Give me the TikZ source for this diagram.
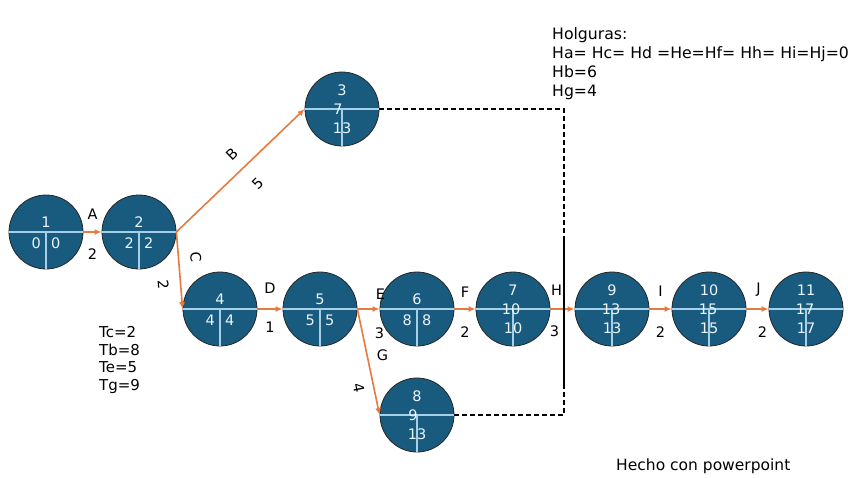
\documentclass[tikz,border=0pt]{standalone}
\usepackage{fontspec}
\setmainfont{DejaVu Sans}
\usetikzlibrary{arrows.meta,positioning}
\definecolor{pert}{RGB}{25,91,126}
\definecolor{pertlinea}{RGB}{165,208,232}
\definecolor{pertnum}{RGB}{236,244,250}
\definecolor{actividad}{RGB}{232,122,62}

\begin{document}
\begin{tikzpicture}[x=1pt, y=-1pt,
    ev/.style={circle, draw=black!85, line width=0.8pt, fill=pert, minimum size=74pt, inner sep=0pt},
    num/.style={inner sep=0pt, text=pertnum, font=\fontsize{14.5}{14.5}\selectfont},
    sep/.style={pertlinea, line width=1.2pt},
    act/.style={-{Latex[length=7pt,width=6pt]}, actividad, line width=1.6pt},
    lbl/.style={inner sep=1pt, text=black, font=\fontsize{14.5}{14.5}\selectfont},
    holg/.style={black, line width=1.2pt, dash pattern=on 5pt off 3pt}
]
\useasboundingbox (0,0) rectangle (848,477);

% eventos
\node[ev] (e1) at (46,232) {};
\node[ev] (e2) at (139,232) {};
\node[ev] (e3) at (342,109) {};
\node[ev] (e4) at (220,309) {};
\node[ev] (e5) at (320,309) {};
\node[ev] (e6) at (417,309) {};
\node[ev] (e7) at (513,309) {};
\node[ev] (e8) at (417,415) {};
\node[ev] (e9) at (612,309) {};
\node[ev] (e10) at (709,309) {};
\node[ev] (e11) at (806,309) {};

\draw[sep] (e1.west) -- (e1.east) (e1.center) -- (e1.south);
\draw[sep] (e2.west) -- (e2.east) (e2.center) -- (e2.south);
\draw[sep] (e3.west) -- (e3.east) (e3.center) -- (e3.south);
\draw[sep] (e4.west) -- (e4.east) (e4.center) -- (e4.south);
\draw[sep] (e5.west) -- (e5.east) (e5.center) -- (e5.south);
\draw[sep] (e6.west) -- (e6.east) (e6.center) -- (e6.south);
\draw[sep] (e7.west) -- (e7.east) (e7.center) -- (e7.south);
\draw[sep] (e8.west) -- (e8.east) (e8.center) -- (e8.south);
\draw[sep] (e9.west) -- (e9.east) (e9.center) -- (e9.south);
\draw[sep] (e10.west) -- (e10.east) (e10.center) -- (e10.south);
\draw[sep] (e11.west) -- (e11.east) (e11.center) -- (e11.south);

% numero, inicio mas temprano | inicio mas tardio
\node[num, above=4pt of e1.center] (e1n) {1};
\node[num, below left=5.5pt and 5pt of e1.center] (e1i) {0};
\node[num, below right=5.5pt and 5pt of e1.center] (e1t) {0};
\node[num, above=4pt of e2.center] (e2n) {2};
\node[num, below left=5.5pt and 5pt of e2.center] (e2i) {2};
\node[num, below right=5.5pt and 5pt of e2.center] (e2t) {2};
\node[num, above=4pt of e4.center] (e4n) {4};
\node[num, below left=5.5pt and 5pt of e4.center] (e4i) {4};
\node[num, below right=5.5pt and 5pt of e4.center] (e4t) {4};
\node[num, above=4pt of e5.center] (e5n) {5};
\node[num, below left=5.5pt and 5pt of e5.center] (e5i) {5};
\node[num, below right=5.5pt and 5pt of e5.center] (e5t) {5};
\node[num, above=4pt of e6.center] (e6n) {6};
\node[num, below left=5.5pt and 5pt of e6.center] (e6i) {8};
\node[num, below right=5.5pt and 5pt of e6.center] (e6t) {8};

\node[num, above=13pt of e3.center] (e3n) {3};
\node[num, xshift=-4pt] (e3i) at (e3.center) {7};
\node[num, below=14pt of e3.center] (e3t) {13};
\node[num, above=13pt of e7.center] (e7n) {7};
\node[num, xshift=-2pt] (e7i) at (e7.center) {10};
\node[num, below=14pt of e7.center] (e7t) {10};
\node[num, above=13pt of e8.center] (e8n) {8};
\node[num, xshift=-4pt] (e8i) at (e8.center) {9};
\node[num, below=14pt of e8.center] (e8t) {13};
\node[num, above=13pt of e9.center] (e9n) {9};
\node[num, xshift=-1pt] (e9i) at (e9.center) {13};
\node[num, below=14pt of e9.center] (e9t) {13};
\node[num, above=13pt of e10.center] (e10n) {10};
\node[num, xshift=-1pt] (e10i) at (e10.center) {15};
\node[num, below=14pt of e10.center] (e10t) {15};
\node[num, above=13pt of e11.center] (e11n) {11};
\node[num, xshift=-1pt] (e11i) at (e11.center) {17};
\node[num, below=14pt of e11.center] (e11t) {17};

% actividades
\draw[act] (e1.east) -- (e2.west) node[lbl, midway, above=11pt] (la) {A} node[lbl, midway, below=15pt] (da) {2};
\draw[act] (e2.east) -- (e3.west) node[lbl, pos=0.53, sloped, above=11pt] (lb) {B} node[lbl, pos=0.52, sloped, below=14pt] (db) {5};
\draw[act] (e2.east) -- (e4.west) node[lbl, pos=0.35, sloped, above=10pt] (lc) {C} node[lbl, pos=0.67, sloped, below=10pt] (dc) {2};
\draw[act] (e4.east) -- (e5.west) node[lbl, midway, above=14pt] (ld) {D} node[lbl, midway, below=11pt] (dd) {1};
\draw[act] (e5.east) -- (e6.west) node[lbl, midway, above=8pt, xshift=12pt] (le) {E} node[lbl, midway, below=17pt, xshift=11pt] (de) {3};
\draw[act] (e6.east) -- (e7.west) node[lbl, midway, above=10pt] (lf) {F} node[lbl, midway, below=16pt] (df) {2};
\draw[act] (e5.east) -- (e8.west) node[lbl, pos=0.44, right=8pt] (lg) {G} node[lbl, pos=0.72, sloped, below=8pt] (dg) {4};
\draw[act] (e7.east) -- (e9.west) node[lbl, midway, above=12pt, xshift=-6pt] (lh) {H} node[lbl, midway, below=15pt, xshift=-8pt] (dh) {3};
\draw[act] (e9.east) -- (e10.west) node[lbl, midway, above=11pt] (li) {I} node[lbl, midway, below=16pt] (di) {2};
\draw[act] (e10.east) -- (e11.west) node[lbl, midway, above=11pt, xshift=1pt] (lj) {J} node[lbl, midway, below=16pt, xshift=5pt] (dj) {2};

% holguras de B y G
\coordinate (hs) at (564,238);
\coordinate (hi) at (564,388);
\draw[holg] (e3.east) -| (hs);
\draw[holg] (e8.east) -| (hi);
\draw[black, line width=1.6pt] (hs) -- (hi);

\node[anchor=north west, inner sep=0pt, align=left, font=\fontsize{15.7}{19}\selectfont] (holguras) at (552,27) {Holguras:\\Ha= Hc= Hd =He=Hf= Hh= Hi=Hj=0\\Hb=6\\Hg=4};
\node[anchor=north west, inner sep=0pt, align=left, font=\fontsize{15}{17.7}\selectfont] (tiempos) at (99,326) {Tc=2\\Tb=8\\Te=5\\Tg=9};
\node[anchor=base west, inner sep=0pt, font=\fontsize{15.5}{15.5}\selectfont] (nota) at (616,470) {Hecho con powerpoint};
\end{tikzpicture}
\end{document}
